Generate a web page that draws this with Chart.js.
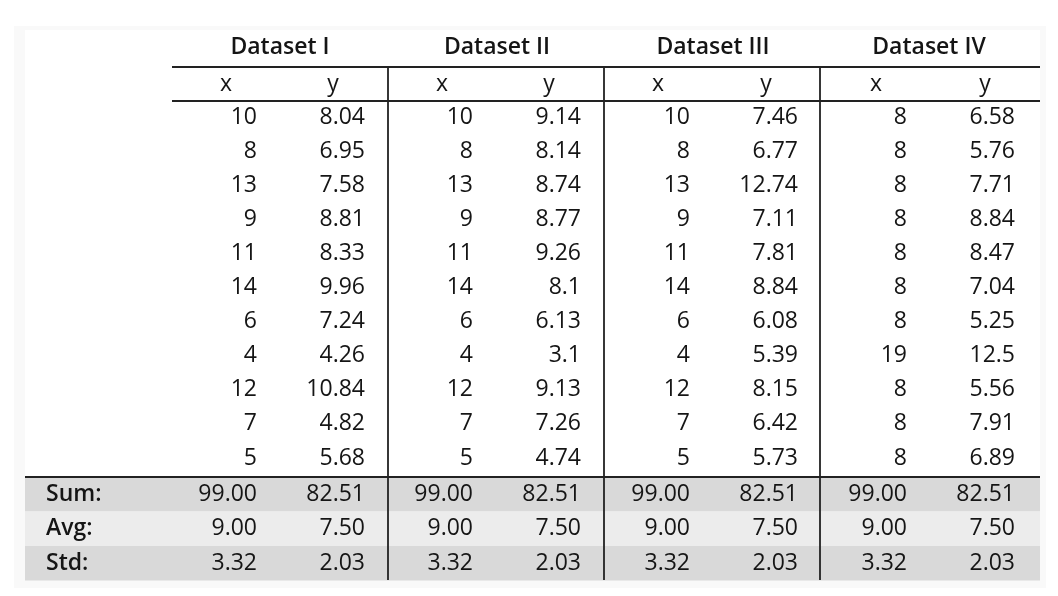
<!DOCTYPE html>
<html>
<head>
<meta charset="utf-8">
<script src="https://cdn.jsdelivr.net/npm/chart.js@4"></script>
<style>
  html, body { margin: 0; padding: 0; background: #fff; }
  #wrap { width: 1058px; height: 596px; }
</style>
</head>
<body>
<div id="wrap"><canvas id="myChart" width="1058" height="596"></canvas></div>
<script>
// Anscombe's quartet values
const datasetNames = ['Dataset I', 'Dataset II', 'Dataset III', 'Dataset IV'];
const x1 = ['10', '8', '13', '9', '11', '14', '6', '4', '12', '7', '5'];
const y1 = ['8.04', '6.95', '7.58', '8.81', '8.33', '9.96', '7.24', '4.26', '10.84', '4.82', '5.68'];
const x2 = ['10', '8', '13', '9', '11', '14', '6', '4', '12', '7', '5'];
const y2 = ['9.14', '8.14', '8.74', '8.77', '9.26', '8.1', '6.13', '3.1', '9.13', '7.26', '4.74'];
const x3 = ['10', '8', '13', '9', '11', '14', '6', '4', '12', '7', '5'];
const y3 = ['7.46', '6.77', '12.74', '7.11', '7.81', '8.84', '6.08', '5.39', '8.15', '6.42', '5.73'];
const x4 = ['8', '8', '8', '8', '8', '8', '8', '19', '8', '8', '8'];
const y4 = ['6.58', '5.76', '7.71', '8.84', '8.47', '7.04', '5.25', '12.5', '5.56', '7.91', '6.89'];
const summaryLabels = ['Sum:', 'Avg:', 'Std:'];
const summaryX = ['99.00', '9.00', '3.32'];
const summaryY = ['82.51', '7.50', '2.03'];

const columns = [x1, y1, x2, y2, x3, y3, x4, y4];

// draw the table on the canvas after chart.js lays it out
const tablePlugin = {
    id: 'tablePlugin',
    afterDraw(chart) {
        const ctx = chart.ctx;
        const family = '"Open Sans", "Noto Sans", sans-serif';
        const font = '23px ' + family;
        const boldFont = '600 23px ' + family;
        const left = 25, right = 1040, tableLeft = 172;
        const colRight = [257, 365, 473, 581, 690, 798, 907, 1015];
        const colCenter = [226, 333, 442, 549, 658, 766, 876, 985];
        const groupCenter = [280, 497, 713, 929];
        const vLines = [388, 604, 820];
        const rowY = r => 117 + r * 34.1;
        const sumTop = 477, sumRowH = 34.5;

        ctx.save();
        // faint panel
        ctx.fillStyle = '#f9f9f9';
        ctx.fillRect(14, 26, 1032, 562);
        ctx.fillStyle = '#ffffff';
        ctx.fillRect(left, 30, right - left, 447);

        // summary backgrounds
        ['#d9d9d9', '#ececec', '#d9d9d9'].forEach((c, i) => {
            ctx.fillStyle = c;
            ctx.fillRect(left, sumTop + i * sumRowH, right - left, sumRowH);
        });

        ctx.fillStyle = '#151515';
        ctx.textBaseline = 'middle';

        // group headers
        ctx.font = boldFont;
        ctx.textAlign = 'center';
        datasetNames.forEach((n, i) => ctx.fillText(n, groupCenter[i], 47));
        // x / y
        ctx.font = font;
        colCenter.forEach((c, i) => ctx.fillText(i % 2 ? 'y' : 'x', c, 84));

        // body
        ctx.textAlign = 'right';
        columns.forEach((col, ci) => {
            col.forEach((v, r) => ctx.fillText(v, colRight[ci], rowY(r)));
        });

        // summary
        summaryLabels.forEach((lab, i) => {
            const y = sumTop + i * sumRowH + sumRowH / 2;
            ctx.font = boldFont;
            ctx.textAlign = 'left';
            ctx.fillText(lab, 46, y);
            ctx.font = font;
            ctx.textAlign = 'right';
            for (let g = 0; g < 4; g++) {
                ctx.fillText(summaryX[i], colRight[g * 2], y);
                ctx.fillText(summaryY[i], colRight[g * 2 + 1], y);
            }
        });

        // rules
        ctx.strokeStyle = '#222';
        ctx.lineWidth = 1.8;
        ctx.beginPath();
        ctx.moveTo(tableLeft, 67); ctx.lineTo(right, 67);
        ctx.moveTo(tableLeft, 101); ctx.lineTo(right, 101);
        ctx.moveTo(left, sumTop); ctx.lineTo(right, sumTop);
        vLines.forEach(x => { ctx.moveTo(x, 67); ctx.lineTo(x, 580); });
        ctx.stroke();
        ctx.restore();
    }
};

const ctx = document.getElementById('myChart').getContext('2d');
const myChart = new Chart(ctx, {
    type: 'scatter',
    data: { datasets: [] },
    options: {
        responsive: false,
        animation: false,
        plugins: { legend: { display: false }, tooltip: { enabled: false } },
        scales: { x: { display: false }, y: { display: false } }
    },
    plugins: [tablePlugin]
});
</script>
</body>
</html>
